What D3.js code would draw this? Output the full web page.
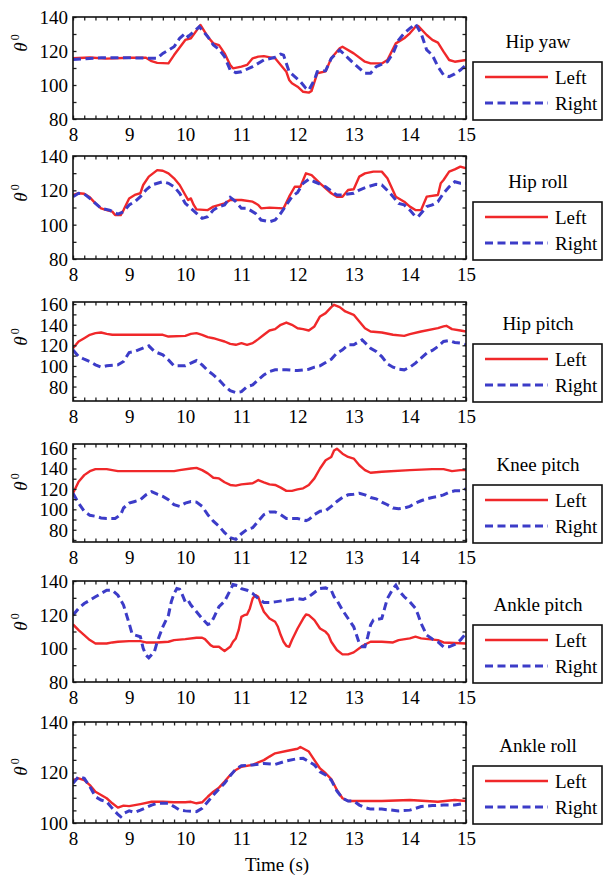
<!DOCTYPE html>
<html><head><meta charset="utf-8">
<script src="https://cdn.jsdelivr.net/npm/d3@7"></script>
<style>
body{margin:0;background:#fff}
svg{display:block}
text{font-family:"Liberation Serif","Times New Roman",serif;fill:#000}
</style>
</head><body>
<svg id="chart" width="603" height="877"></svg>
<script>
// ---------- data ----------
const panelTitles = ["Hip yaw","Hip roll","Hip pitch","Knee pitch","Ankle pitch","Ankle roll"];
const seriesNames = ["Left","Right"];
const xDomain = [8, 15];
const xTickLabels = [8, 9, 10, 11, 12, 13, 14, 15];
const yDomains = [[80,140],[80,140],[66,162],[68,164],[80,140],[100,140]];
const yTickLabels = [[80,100,120,140],[80,100,120,140],[80,100,120,140,160],[80,100,120,140,160],[80,100,120,140],[100,120,140]];
const yMinorStep = [10,10,10,10,10,5];

const hipYawLeft = [[8,115.7],[8.3,116.2],[8.6,115.5],[9,116],[9.3,116],[9.4,114],[9.5,113],[9.7,112.7],[9.8,117.6],[10,126.5],[10.1,127.5],[10.2,132],[10.27,135.3],[10.4,128.4],[10.5,124.5],[10.6,123.5],[10.7,118.6],[10.8,111.8],[10.85,109.8],[11,110.8],[11.1,111.8],[11.2,115.7],[11.3,116.7],[11.4,117],[11.6,115.7],[11.7,111.8],[11.8,107.8],[11.85,103],[11.9,101],[12,99],[12.1,96],[12.2,95.5],[12.25,96.5],[12.35,106.9],[12.5,108],[12.6,115.7],[12.75,121.6],[12.8,122.5],[13,118.6],[13.2,113.7],[13.3,112.7],[13.5,112.7],[13.6,114.7],[13.75,124.5],[13.9,127.5],[14,130.4],[14.1,134.3],[14.15,134.7],[14.3,129.4],[14.4,126.5],[14.5,124.9],[14.6,119.6],[14.7,114.7],[14.8,113.7],[15,114.7]];
const hipYawRight = [[8,115],[8.5,116],[9,116],[9.5,115.7],[9.6,118.6],[9.8,122.5],[9.9,127.5],[10,130.4],[10.05,128.4],[10.15,131.4],[10.25,134.3],[10.4,128.4],[10.5,123.5],[10.6,121],[10.7,116.7],[10.8,108.8],[10.9,107.3],[11,107.8],[11.2,110.8],[11.4,114.7],[11.6,116.3],[11.7,118.2],[11.75,117.6],[11.85,107.8],[12,103.5],[12.05,102],[12.15,98],[12.2,97],[12.3,103],[12.35,107.8],[12.5,108.4],[12.6,115.7],[12.75,120.6],[13,112.7],[13.2,106.9],[13.3,106.9],[13.4,110.8],[13.6,113.7],[13.7,118.6],[13.8,126.5],[13.9,130.4],[14,133.3],[14.1,135.9],[14.2,130.4],[14.3,120.6],[14.4,117.6],[14.5,110.8],[14.6,105.9],[14.7,104.9],[14.8,106.5],[14.9,108.8],[15,111.8]];

const hipRollLeft = [[8,117.3],[8.1,118.3],[8.2,118],[8.3,115.9],[8.4,112.4],[8.5,109.5],[8.6,108.5],[8.7,107.6],[8.75,105.6],[8.85,105.6],[8.9,108.5],[9,115.3],[9.1,117.3],[9.2,118.3],[9.25,123.1],[9.35,128],[9.5,131.8],[9.6,131.4],[9.7,129.9],[9.8,127],[9.9,123.1],[10,117.3],[10.05,114.4],[10.1,115.3],[10.15,111.5],[10.2,108.9],[10.4,108.5],[10.5,110.5],[10.7,112.4],[10.8,114.4],[11,114.4],[11.2,113.4],[11.3,111.5],[11.35,109.5],[11.5,109.9],[11.75,109.5],[11.85,116.3],[11.95,122.1],[12.05,122.1],[12.15,129.9],[12.25,128.9],[12.4,124.1],[12.6,118.3],[12.7,116.3],[12.8,116.3],[12.9,120.2],[13,120.6],[13.1,128],[13.2,129.9],[13.35,130.9],[13.5,130.9],[13.6,127],[13.75,116.3],[13.9,113.4],[14,110.5],[14.1,108.5],[14.2,108.5],[14.3,116.3],[14.5,117.3],[14.55,124.1],[14.6,126],[14.7,130.9],[14.8,132.2],[14.9,133.8],[15,132.8]];
const hipRollRight = [[8,116.3],[8.1,118.3],[8.2,117.9],[8.3,115.3],[8.4,112.4],[8.5,109.5],[8.65,108.5],[8.8,106.2],[8.9,107.6],[9,111.5],[9.1,113.4],[9.2,116.3],[9.3,120.2],[9.4,123.1],[9.6,125],[9.7,124.1],[9.8,122.1],[9.9,118.3],[10,112.4],[10.1,109.5],[10.2,106.6],[10.3,103.7],[10.4,104.7],[10.5,108.5],[10.6,110.5],[10.7,111.5],[10.8,115.9],[10.9,113.4],[11,109.5],[11.1,109.5],[11.25,106.6],[11.35,102.7],[11.5,101.7],[11.6,102.7],[11.7,106.6],[11.8,111.5],[11.9,116.3],[12,118.8],[12.1,124.1],[12.2,126.4],[12.3,125],[12.5,122.1],[12.65,118.3],[12.7,117.3],[12.8,117.3],[12.9,117.9],[13,118.3],[13.1,120.2],[13.25,122.1],[13.4,123.5],[13.5,123.1],[13.65,118.3],[13.8,112.4],[13.9,111.5],[14,108.5],[14.1,104.7],[14.15,104.7],[14.3,110.5],[14.4,111.5],[14.5,113.4],[14.6,118.3],[14.7,122.1],[14.8,125],[14.9,124.1],[15,124.1]];

const hipPitchLeft = [[8,117.2],[8.1,123.7],[8.2,126.9],[8.3,130.2],[8.4,131.8],[8.5,132.4],[8.6,131.1],[8.7,130.2],[9.6,130.2],[9.7,128.5],[10,129.2],[10.1,131.1],[10.2,131.8],[10.3,130.2],[10.4,127.9],[10.5,126.9],[10.6,125.3],[10.7,123.7],[10.8,121.4],[10.9,120.5],[11,122.1],[11.1,120.5],[11.2,122.1],[11.3,126],[11.4,130.2],[11.5,134.4],[11.6,135.7],[11.7,139.9],[11.8,142.1],[11.9,139.9],[12,136.6],[12.1,135.7],[12.2,134.4],[12.3,138.3],[12.4,148],[12.5,151.2],[12.6,157],[12.65,159.3],[12.75,157],[12.85,152.8],[13,149.6],[13.1,143.1],[13.2,136.6],[13.3,133.4],[13.5,132.4],[13.7,130.2],[13.9,129.2],[14,130.8],[14.2,133.4],[14.5,136.6],[14.6,138.3],[14.65,138.9],[14.75,135.7],[14.9,134.4],[15,133.4]];
const hipPitchRight = [[8,115.6],[8.1,109.1],[8.2,106.5],[8.3,104.3],[8.4,101],[8.5,98.8],[8.6,100.1],[8.8,101],[8.9,104.3],[9,113],[9.1,114],[9.2,116.2],[9.35,119.5],[9.45,114],[9.6,110.7],[9.7,105.9],[9.8,100.1],[10,100.1],[10.1,102.7],[10.2,105.2],[10.3,101],[10.4,95.5],[10.5,91.3],[10.6,86.5],[10.7,80.6],[10.8,76.1],[10.9,74.2],[11,75.1],[11.1,80],[11.2,81.6],[11.3,86.5],[11.4,91.3],[11.5,94.6],[11.6,96.2],[11.8,96.2],[12,95.5],[12.2,96.8],[12.3,98.8],[12.4,100.1],[12.5,103.3],[12.6,106.5],[12.7,112.4],[12.8,115.6],[12.9,120.5],[13,120.5],[13.1,123.7],[13.15,125.3],[13.3,117.2],[13.4,114],[13.5,109.1],[13.6,102],[13.7,98.8],[13.8,96.8],[13.9,96.2],[14,98.8],[14.1,102.7],[14.2,107.5],[14.3,112.4],[14.4,115],[14.5,118.8],[14.6,123.7],[14.7,124.7],[14.8,122.7],[14.9,122.1],[15,120.5]];

const kneePitchLeft = [[8,115.8],[8.1,127.1],[8.2,133.5],[8.3,137.4],[8.4,139.4],[8.6,139.4],[8.7,138.4],[8.8,137.4],[9.8,137.4],[9.9,138.4],[10.1,140],[10.2,140.6],[10.3,138.4],[10.4,135.2],[10.5,131],[10.6,130.3],[10.7,126.5],[10.8,123.9],[10.9,123.2],[11,124.5],[11.2,125.5],[11.3,128.7],[11.4,126.5],[11.5,124.5],[11.6,123.9],[11.7,121.3],[11.8,118.1],[11.9,118.1],[12,119.5],[12.1,120.6],[12.2,123.9],[12.3,130.3],[12.4,140],[12.5,148.1],[12.6,151.3],[12.65,157.7],[12.7,159.4],[12.8,154.5],[12.9,151.3],[13,149.7],[13.1,143.2],[13.2,138.4],[13.3,135.8],[13.5,136.8],[14,138.4],[14.4,139.4],[14.6,139.4],[14.75,137.4],[14.9,138.4],[15,138.4]];
const kneePitchRight = [[8,115.8],[8.1,106.1],[8.2,98.1],[8.3,94.2],[8.4,93.2],[8.5,91.6],[8.6,91],[8.75,91],[8.85,94.8],[8.9,101.3],[9,106.1],[9.1,107.7],[9.2,109.4],[9.3,114.2],[9.4,117.4],[9.5,114.8],[9.6,112.6],[9.7,109.4],[9.8,104.5],[9.9,102.9],[10,106.1],[10.1,107.7],[10.2,107.1],[10.3,102.9],[10.4,94.8],[10.5,88.4],[10.6,83.5],[10.7,77.1],[10.8,72.3],[10.9,70.6],[11,76.1],[11.1,80.3],[11.2,81.9],[11.3,88.4],[11.4,94.8],[11.5,97.4],[11.6,97.4],[11.7,94.8],[11.8,91],[12,91],[12.15,89],[12.2,90],[12.3,94.8],[12.4,98.1],[12.5,98.7],[12.6,102.9],[12.7,107.7],[12.8,111.6],[12.9,114.2],[13,114.8],[13.1,115.8],[13.2,114.2],[13.3,111.6],[13.4,110.3],[13.5,107.1],[13.6,104.5],[13.7,101.3],[13.8,100.6],[13.9,101.3],[14,102.9],[14.1,106.1],[14.2,108.4],[14.3,110.3],[14.4,111.6],[14.5,112.6],[14.6,114.2],[14.7,116.8],[14.8,118.1],[14.9,118.1],[15,120]];

const anklePitchLeft = [[8,114.2],[8.1,110.8],[8.2,107.9],[8.3,104.9],[8.4,102.9],[8.6,102.9],[8.7,103.5],[8.8,103.9],[9,104.3],[9.2,104.3],[9.3,103.5],[9.5,103.5],[9.7,103.9],[9.8,104.9],[10,105.5],[10.2,106.3],[10.3,106.3],[10.35,105.5],[10.45,101.9],[10.5,100.9],[10.6,100.9],[10.65,99.6],[10.7,98.4],[10.8,100.9],[10.85,103.9],[10.9,105.9],[10.95,110.8],[11,118.7],[11.05,119.7],[11.1,120.1],[11.15,123.7],[11.2,129.6],[11.25,131.6],[11.3,130.6],[11.35,125.7],[11.4,121.7],[11.5,117.7],[11.6,115.8],[11.65,112.8],[11.7,107.9],[11.75,103.9],[11.8,101.5],[11.85,100.9],[11.9,104.9],[12,111.8],[12.1,117.7],[12.15,120.1],[12.2,119.7],[12.3,116.8],[12.4,111.8],[12.5,109.8],[12.55,107.9],[12.6,103.9],[12.7,99],[12.8,96.4],[12.9,96.4],[13,97.6],[13.1,100],[13.2,102.3],[13.3,103.9],[13.5,103.9],[13.7,103.5],[13.8,104.9],[14,105.9],[14.1,106.9],[14.2,105.9],[14.5,104.9],[14.6,103.5],[15,102.9]];
const anklePitchRight = [[8,119.7],[8.1,123.7],[8.2,126.6],[8.3,128.6],[8.4,130.6],[8.5,132.6],[8.6,134.5],[8.7,134.5],[8.8,131.6],[8.9,125.7],[9,114.8],[9.05,108.9],[9.1,107.9],[9.2,106.9],[9.25,100],[9.3,96],[9.35,94.4],[9.45,98],[9.5,103.9],[9.6,112.8],[9.7,119.7],[9.75,127.6],[9.8,132.6],[9.85,135.5],[9.9,135.1],[9.95,131.6],[10,127.6],[10.05,128.6],[10.1,125.7],[10.2,121.7],[10.3,117.7],[10.4,114.2],[10.45,114.8],[10.5,117.7],[10.6,124.7],[10.7,128],[10.8,134.5],[10.85,137.9],[10.95,137.1],[11,135.5],[11.1,134.5],[11.2,132.6],[11.3,129.6],[11.4,127.2],[11.5,127.2],[11.6,127.6],[11.8,128.6],[12,129.6],[12.1,129],[12.2,130.6],[12.3,133.2],[12.4,135.5],[12.5,135.9],[12.6,134.5],[12.65,130.6],[12.7,128.6],[12.8,122.7],[12.9,117.7],[13,112.8],[13.05,107.9],[13.1,102.9],[13.15,100.9],[13.2,100.9],[13.25,106.9],[13.3,113.8],[13.35,116.8],[13.5,117.7],[13.55,123.7],[13.6,129.6],[13.7,135.5],[13.75,137.5],[13.8,134.5],[13.9,130.6],[14,127.6],[14.1,123.7],[14.15,119.7],[14.2,114.8],[14.3,107.9],[14.4,105.5],[14.5,103.9],[14.6,100.9],[14.7,100.9],[14.8,102.3],[14.9,104.9],[15,108.9]];

const ankleRollLeft = [[8,117],[8.1,117.7],[8.2,117],[8.3,115],[8.4,112.4],[8.5,111.1],[8.6,109.8],[8.7,107.8],[8.8,106.1],[8.9,106.9],[9,106.7],[9.2,107.5],[9.4,108.4],[9.6,108.4],[9.8,108.2],[10,108.2],[10.1,108.4],[10.2,107.8],[10.3,108.2],[10.4,110.4],[10.5,112.4],[10.6,114],[10.7,116.4],[10.8,119],[10.9,121],[11,122.3],[11.2,123],[11.3,124],[11.4,124.9],[11.5,126.3],[11.6,127.6],[11.8,128.5],[12,129.4],[12.05,130.1],[12.2,128.3],[12.3,124.9],[12.4,121.6],[12.5,119.7],[12.6,117.4],[12.7,113.1],[12.8,109.8],[12.9,108.7],[13.5,108.7],[14,109.1],[14.5,108.4],[14.8,109.1],[15,108.7]];
const ankleRollRight = [[8,115.7],[8.1,118.4],[8.2,117.7],[8.3,114.4],[8.4,110.4],[8.5,109.1],[8.6,108.4],[8.7,105.8],[8.8,103.4],[8.85,102.5],[8.9,103.8],[9,104.8],[9.1,104.2],[9.2,105.1],[9.4,107.1],[9.5,107.8],[9.7,107.8],[9.8,106.5],[9.9,105.1],[10,104.8],[10.2,104.5],[10.3,105.8],[10.4,108.4],[10.5,111.1],[10.6,113.5],[10.7,115.7],[10.8,118.7],[10.9,121.4],[11,122.7],[11.2,123],[11.4,123.6],[11.6,123.2],[11.8,124.6],[12,125.5],[12.1,125.6],[12.2,124.3],[12.3,123],[12.4,120.3],[12.5,119],[12.6,117],[12.7,112.7],[12.8,109.8],[12.9,108.7],[13,108.7],[13.1,107.1],[13.2,106.1],[13.3,105.5],[13.5,105.5],[13.8,104.8],[14,105.1],[14.2,106.5],[14.4,106.9],[14.6,107.1],[14.8,107.1],[15,107.8]];

const leftSeries = [hipYawLeft, hipRollLeft, hipPitchLeft, kneePitchLeft, anklePitchLeft, ankleRollLeft];
const rightSeries = [hipYawRight, hipRollRight, hipPitchRight, kneePitchRight, anklePitchRight, ankleRollRight];

// ---------- layout ----------
const plotLeft = 73, plotRight = 466;
const panelTops = [17, 156, 302, 444, 581, 722];
const panelBottoms = [119, 259, 401, 542, 682, 823];
const ylabelCenters = [43, 193, 337, 482, 622, 767];
const legLeft = 473, legRight = 603, legH = 58;
const RED = "#f0282a", BLUE = "#3c3cc8";
const FONT = 19;

const svg = d3.select("#chart");
const x = d3.scaleLinear().domain(xDomain).range([plotLeft, plotRight]);
const xMinor = d3.range(0, 36).map(i => 8 + i * 0.2);

panelTitles.forEach((title, i) => {
  const top = panelTops[i], bottom = panelBottoms[i];
  const y = d3.scaleLinear().domain(yDomains[i]).range([bottom, top]);
  const yd = yDomains[i];
  const step = yMinorStep[i];
  const yTicks = d3.range(Math.ceil(yd[0] / step) * step, yd[1] + 0.001, step);
  const g = svg.append("g");
  const clipId = "clip" + i;
  svg.append("clipPath").attr("id", clipId).append("rect")
    .attr("x", plotLeft).attr("y", top).attr("width", plotRight - plotLeft).attr("height", bottom - top);

  // lines
  const line = d3.line().x(d => x(d[0])).y(d => y(d[1]));
  g.append("path").datum(leftSeries[i]).attr("clip-path", `url(#${clipId})`)
    .attr("d", line).attr("fill", "none").attr("stroke", RED).attr("stroke-width", 2.4).attr("stroke-linejoin", "round");
  g.append("path").datum(rightSeries[i]).attr("clip-path", `url(#${clipId})`)
    .attr("d", line).attr("fill", "none").attr("stroke", BLUE).attr("stroke-width", 3)
    .attr("stroke-dasharray", "8,4.5");

  // axes
  const fmtX = v => (Math.abs(v - Math.round(v)) < 1e-6 && xTickLabels.includes(Math.round(v))) ? String(Math.round(v)) : "";
  const fmtY = v => yTickLabels[i].includes(Math.round(v)) && Math.abs(v - Math.round(v)) < 1e-6 ? String(Math.round(v)) : "";
  const ax = [
    g.append("g").attr("transform", `translate(0,${bottom})`).call(d3.axisBottom(x).tickValues(xMinor).tickSize(-3.5).tickPadding(9).tickFormat(fmtX)),
    g.append("g").attr("transform", `translate(0,${top})`).call(d3.axisTop(x).tickValues(xMinor).tickSize(-3.5).tickFormat("")),
    g.append("g").attr("transform", `translate(${plotLeft},0)`).call(d3.axisLeft(y).tickValues(yTicks).tickSize(-3.5).tickPadding(5).tickFormat(fmtY)),
    g.append("g").attr("transform", `translate(${plotRight},0)`).call(d3.axisRight(y).tickValues(yTicks).tickSize(-3.5).tickFormat(""))
  ];
  ax.forEach(a => {
    a.select(".domain").remove();
    a.selectAll(".tick line").attr("stroke", "#222").attr("stroke-width", 1.3);
    a.selectAll("text").attr("font-family", "Liberation Serif, Times New Roman, serif").attr("font-size", FONT).attr("fill", "#000");
  });
  ax[2].selectAll("text").attr("dy", "0.34em");

  // frame
  g.append("rect").attr("x", plotLeft).attr("y", top).attr("width", plotRight - plotLeft).attr("height", bottom - top)
    .attr("fill", "none").attr("stroke", "#111").attr("stroke-width", 1.6);

  // y label theta^0
  const yl = g.append("text").attr("transform", `translate(27,${ylabelCenters[i]}) rotate(-90)`)
    .attr("text-anchor", "middle").attr("font-size", FONT);
  yl.append("tspan").attr("font-style", "italic").text("θ");
  yl.append("tspan").attr("font-size", 12).attr("dy", -8).attr("dx", 2).text("0");

  // legend
  const legTop = bottom + 1 - legH;
  g.append("text").attr("x", (legLeft + legRight) / 2).attr("y", legTop - 21).attr("dy", "0.35em")
    .attr("text-anchor", "middle").attr("font-size", FONT).text(title);
  g.append("rect").attr("x", legLeft).attr("y", legTop).attr("width", legRight - legLeft - 1).attr("height", legH)
    .attr("fill", "#fff").attr("stroke", "#111").attr("stroke-width", 1.6);
  const rows = [{name: seriesNames[0], color: RED, dash: null, w: 2.4, dy: 15},
                {name: seriesNames[1], color: BLUE, dash: "8,4.5", w: 3, dy: 41}];
  rows.forEach(r => {
    g.append("line").attr("x1", 485).attr("x2", 548).attr("y1", legTop + r.dy).attr("y2", legTop + r.dy)
      .attr("stroke", r.color).attr("stroke-width", r.w).attr("stroke-dasharray", r.dash);
    g.append("text").attr("x", 555).attr("y", legTop + r.dy).attr("dy", "0.35em")
      .attr("font-size", FONT).text(r.name);
  });
});

svg.append("text").attr("x", 277).attr("y", 871).attr("text-anchor", "middle")
  .attr("font-size", FONT).text("Time (s)");
</script>
</body></html>
